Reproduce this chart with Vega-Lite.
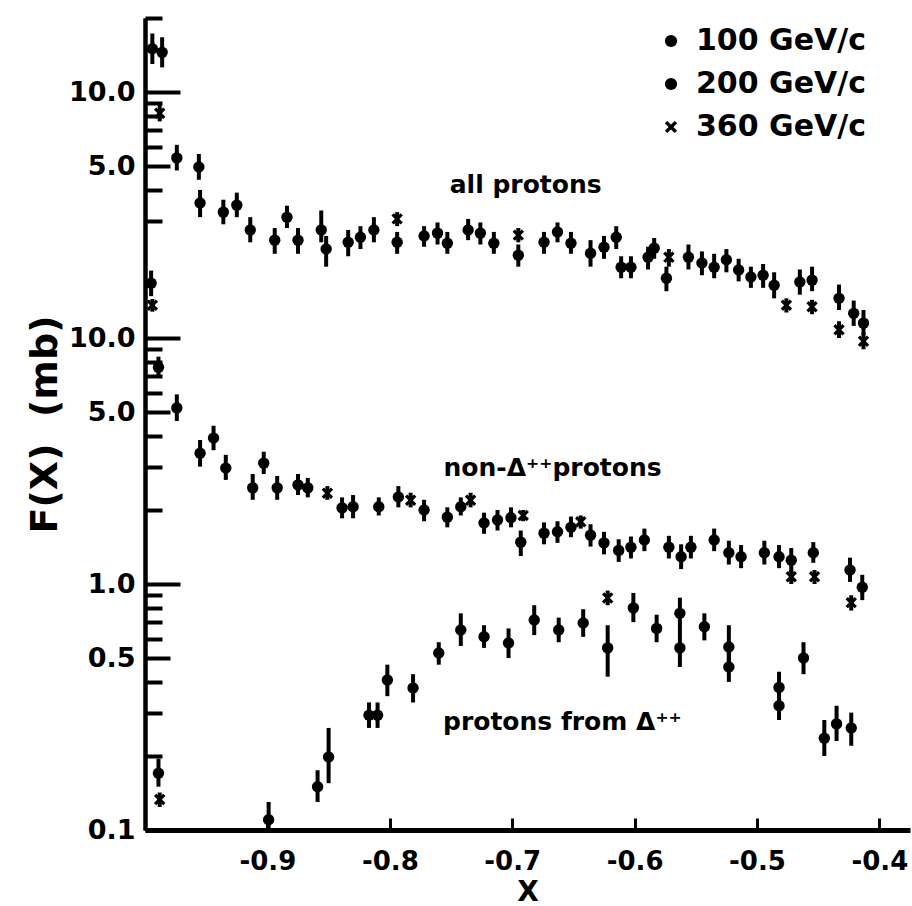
{
  "$schema": "https://vega.github.io/schema/vega-lite/v6.json",
  "width": 765,
  "height": 812,
  "autosize": {"type": "none"},
  "padding": {"left": 145, "top": 18, "right": 2, "bottom": 76},
  "background": "white",
  "config": {
    "view": {"stroke": null},
    "font": "DejaVu Sans",
    "axis": {
      "tickColor": "black", "domainColor": "black", "labelColor": "black", "titleColor": "black",
      "labelFont": "DejaVu Sans", "labelFontWeight": "bold", "labelFontSize": 27,
      "titleFont": "DejaVu Sans", "titleFontWeight": "bold",
      "labelFlush": false, "labelOverlap": false, "grid": false, "tickWidth": 4, "domainWidth": 4
    }
  },
  "datasets": {
    "all": [
      {"x": -0.994, "F": 15.0, "E": "100 GeV/c", "lo": 13.0, "hi": 17.3},
      {"x": -0.986, "F": 14.5, "E": "200 GeV/c", "lo": 12.6, "hi": 16.7},
      {"x": -0.988, "F": 8.2, "E": "360 GeV/c", "lo": 7.6, "hi": 8.9},
      {"x": -0.974, "F": 5.4, "E": "100 GeV/c", "lo": 4.8, "hi": 6.1},
      {"x": -0.956, "F": 4.96, "E": "200 GeV/c", "lo": 4.4, "hi": 5.6},
      {"x": -0.955, "F": 3.54, "E": "100 GeV/c", "lo": 3.1, "hi": 4.0},
      {"x": -0.936, "F": 3.25, "E": "100 GeV/c", "lo": 2.9, "hi": 3.65},
      {"x": -0.925, "F": 3.47, "E": "200 GeV/c", "lo": 3.1, "hi": 3.9},
      {"x": -0.914, "F": 2.75, "E": "100 GeV/c", "lo": 2.45, "hi": 3.1},
      {"x": -0.894, "F": 2.5, "E": "100 GeV/c", "lo": 2.2, "hi": 2.8},
      {"x": -0.884, "F": 3.1, "E": "200 GeV/c", "lo": 2.8, "hi": 3.45},
      {"x": -0.875, "F": 2.5, "E": "100 GeV/c", "lo": 2.2, "hi": 2.8},
      {"x": -0.856, "F": 2.75, "E": "200 GeV/c", "lo": 2.45, "hi": 3.3},
      {"x": -0.852, "F": 2.3, "E": "100 GeV/c", "lo": 1.95, "hi": 2.6},
      {"x": -0.834, "F": 2.45, "E": "100 GeV/c", "lo": 2.15, "hi": 2.75},
      {"x": -0.824, "F": 2.57, "E": "200 GeV/c", "lo": 2.3, "hi": 2.85},
      {"x": -0.813, "F": 2.75, "E": "100 GeV/c", "lo": 2.45, "hi": 3.1},
      {"x": -0.794, "F": 3.05, "E": "360 GeV/c", "lo": 2.85, "hi": 3.25},
      {"x": -0.794, "F": 2.45, "E": "100 GeV/c", "lo": 2.2, "hi": 2.7},
      {"x": -0.772, "F": 2.6, "E": "200 GeV/c", "lo": 2.35, "hi": 2.85},
      {"x": -0.761, "F": 2.67, "E": "100 GeV/c", "lo": 2.4, "hi": 2.95},
      {"x": -0.753, "F": 2.43, "E": "200 GeV/c", "lo": 2.2, "hi": 2.7},
      {"x": -0.736, "F": 2.75, "E": "100 GeV/c", "lo": 2.5, "hi": 3.05},
      {"x": -0.726, "F": 2.67, "E": "200 GeV/c", "lo": 2.4, "hi": 2.95},
      {"x": -0.715, "F": 2.43, "E": "100 GeV/c", "lo": 2.2, "hi": 2.7},
      {"x": -0.695, "F": 2.62, "E": "360 GeV/c", "lo": 2.45, "hi": 2.8},
      {"x": -0.695, "F": 2.17, "E": "100 GeV/c", "lo": 1.95, "hi": 2.4},
      {"x": -0.674, "F": 2.45, "E": "100 GeV/c", "lo": 2.2, "hi": 2.7},
      {"x": -0.663, "F": 2.7, "E": "200 GeV/c", "lo": 2.45, "hi": 2.95},
      {"x": -0.652, "F": 2.43, "E": "100 GeV/c", "lo": 2.2, "hi": 2.7},
      {"x": -0.636, "F": 2.21, "E": "100 GeV/c", "lo": 1.95, "hi": 2.5},
      {"x": -0.625, "F": 2.34, "E": "200 GeV/c", "lo": 2.1, "hi": 2.6},
      {"x": -0.615, "F": 2.57, "E": "100 GeV/c", "lo": 2.3, "hi": 2.85},
      {"x": -0.611, "F": 1.94, "E": "200 GeV/c", "lo": 1.75, "hi": 2.15},
      {"x": -0.603, "F": 1.94, "E": "100 GeV/c", "lo": 1.75, "hi": 2.15},
      {"x": -0.589, "F": 2.13, "E": "200 GeV/c", "lo": 1.9, "hi": 2.35},
      {"x": -0.584, "F": 2.32, "E": "100 GeV/c", "lo": 2.1, "hi": 2.55},
      {"x": -0.572, "F": 2.13, "E": "360 GeV/c", "lo": 1.95, "hi": 2.3},
      {"x": -0.574, "F": 1.75, "E": "100 GeV/c", "lo": 1.55, "hi": 1.95},
      {"x": -0.556, "F": 2.13, "E": "200 GeV/c", "lo": 1.9, "hi": 2.4},
      {"x": -0.545, "F": 2.02, "E": "100 GeV/c", "lo": 1.8, "hi": 2.25},
      {"x": -0.535, "F": 1.94, "E": "200 GeV/c", "lo": 1.75, "hi": 2.2},
      {"x": -0.525, "F": 2.08, "E": "100 GeV/c", "lo": 1.85, "hi": 2.3},
      {"x": -0.515, "F": 1.89, "E": "200 GeV/c", "lo": 1.7, "hi": 2.1},
      {"x": -0.505, "F": 1.77, "E": "100 GeV/c", "lo": 1.6, "hi": 1.95},
      {"x": -0.495, "F": 1.8, "E": "200 GeV/c", "lo": 1.6, "hi": 2.0},
      {"x": -0.486, "F": 1.64, "E": "100 GeV/c", "lo": 1.45, "hi": 1.85},
      {"x": -0.476, "F": 1.36, "E": "360 GeV/c", "lo": 1.27, "hi": 1.45},
      {"x": -0.465, "F": 1.69, "E": "100 GeV/c", "lo": 1.5, "hi": 1.9},
      {"x": -0.455, "F": 1.72, "E": "200 GeV/c", "lo": 1.55, "hi": 1.95},
      {"x": -0.455, "F": 1.34, "E": "360 GeV/c", "lo": 1.25, "hi": 1.43},
      {"x": -0.433, "F": 1.45, "E": "100 GeV/c", "lo": 1.3, "hi": 1.65},
      {"x": -0.433, "F": 1.08, "E": "360 GeV/c", "lo": 1.0, "hi": 1.17},
      {"x": -0.421, "F": 1.26, "E": "200 GeV/c", "lo": 1.12, "hi": 1.42},
      {"x": -0.413, "F": 1.15, "E": "100 GeV/c", "lo": 1.03, "hi": 1.3},
      {"x": -0.413, "F": 0.97, "E": "360 GeV/c", "lo": 0.9, "hi": 1.05}
    ],
    "lower": [
      {"s": "non", "x": -0.995, "F": 16.7, "E": "100 GeV/c", "lo": 14.8, "hi": 18.8},
      {"s": "non", "x": -0.994, "F": 13.6, "E": "360 GeV/c", "lo": 12.8, "hi": 14.4},
      {"s": "non", "x": -0.989, "F": 7.6, "E": "200 GeV/c", "lo": 6.9, "hi": 8.4},
      {"s": "non", "x": -0.974, "F": 5.2, "E": "100 GeV/c", "lo": 4.6, "hi": 5.9},
      {"s": "non", "x": -0.955, "F": 3.4, "E": "100 GeV/c", "lo": 3.0, "hi": 3.85},
      {"s": "non", "x": -0.944, "F": 3.92, "E": "200 GeV/c", "lo": 3.5, "hi": 4.4},
      {"s": "non", "x": -0.934, "F": 2.96, "E": "100 GeV/c", "lo": 2.65, "hi": 3.35},
      {"s": "non", "x": -0.912, "F": 2.46, "E": "100 GeV/c", "lo": 2.2, "hi": 2.8},
      {"s": "non", "x": -0.903, "F": 3.1, "E": "200 GeV/c", "lo": 2.8, "hi": 3.45},
      {"s": "non", "x": -0.892, "F": 2.46, "E": "100 GeV/c", "lo": 2.2, "hi": 2.75},
      {"s": "non", "x": -0.875, "F": 2.53, "E": "200 GeV/c", "lo": 2.3, "hi": 2.8},
      {"s": "non", "x": -0.867, "F": 2.46, "E": "100 GeV/c", "lo": 2.25, "hi": 2.7},
      {"s": "non", "x": -0.851, "F": 2.34, "E": "360 GeV/c", "lo": 2.2, "hi": 2.5},
      {"s": "non", "x": -0.839, "F": 2.04, "E": "100 GeV/c", "lo": 1.85, "hi": 2.25},
      {"s": "non", "x": -0.83, "F": 2.06, "E": "200 GeV/c", "lo": 1.85, "hi": 2.3},
      {"s": "non", "x": -0.809, "F": 2.06, "E": "100 GeV/c", "lo": 1.9, "hi": 2.25},
      {"s": "non", "x": -0.793, "F": 2.26, "E": "200 GeV/c", "lo": 2.05, "hi": 2.5},
      {"s": "non", "x": -0.783, "F": 2.19, "E": "360 GeV/c", "lo": 2.05, "hi": 2.35},
      {"s": "non", "x": -0.772, "F": 2.0, "E": "100 GeV/c", "lo": 1.8, "hi": 2.2},
      {"s": "non", "x": -0.753, "F": 1.87, "E": "100 GeV/c", "lo": 1.7, "hi": 2.05},
      {"s": "non", "x": -0.742, "F": 2.06, "E": "200 GeV/c", "lo": 1.9, "hi": 2.25},
      {"s": "non", "x": -0.734, "F": 2.19, "E": "360 GeV/c", "lo": 2.05, "hi": 2.35},
      {"s": "non", "x": -0.723, "F": 1.77, "E": "100 GeV/c", "lo": 1.6, "hi": 1.95},
      {"s": "non", "x": -0.712, "F": 1.82, "E": "200 GeV/c", "lo": 1.65, "hi": 2.0},
      {"s": "non", "x": -0.701, "F": 1.86, "E": "100 GeV/c", "lo": 1.7, "hi": 2.05},
      {"s": "non", "x": -0.691, "F": 1.9, "E": "360 GeV/c", "lo": 1.8, "hi": 2.0},
      {"s": "non", "x": -0.693, "F": 1.48, "E": "200 GeV/c", "lo": 1.3, "hi": 1.65},
      {"s": "non", "x": -0.674, "F": 1.61, "E": "100 GeV/c", "lo": 1.45, "hi": 1.78},
      {"s": "non", "x": -0.663, "F": 1.63, "E": "200 GeV/c", "lo": 1.47, "hi": 1.8},
      {"s": "non", "x": -0.652, "F": 1.7, "E": "100 GeV/c", "lo": 1.55, "hi": 1.88},
      {"s": "non", "x": -0.644, "F": 1.79, "E": "360 GeV/c", "lo": 1.68, "hi": 1.9},
      {"s": "non", "x": -0.636, "F": 1.58, "E": "100 GeV/c", "lo": 1.42, "hi": 1.75},
      {"s": "non", "x": -0.625, "F": 1.47, "E": "200 GeV/c", "lo": 1.32, "hi": 1.63},
      {"s": "non", "x": -0.613, "F": 1.37, "E": "100 GeV/c", "lo": 1.23, "hi": 1.52},
      {"s": "non", "x": -0.603, "F": 1.41, "E": "200 GeV/c", "lo": 1.27, "hi": 1.56},
      {"s": "non", "x": -0.592, "F": 1.51, "E": "100 GeV/c", "lo": 1.36, "hi": 1.68},
      {"s": "non", "x": -0.572, "F": 1.41, "E": "100 GeV/c", "lo": 1.27, "hi": 1.57},
      {"s": "non", "x": -0.562, "F": 1.29, "E": "200 GeV/c", "lo": 1.15, "hi": 1.45},
      {"s": "non", "x": -0.554, "F": 1.41, "E": "100 GeV/c", "lo": 1.27, "hi": 1.57},
      {"s": "non", "x": -0.535, "F": 1.51, "E": "100 GeV/c", "lo": 1.36, "hi": 1.68},
      {"s": "non", "x": -0.523, "F": 1.34, "E": "200 GeV/c", "lo": 1.2, "hi": 1.5},
      {"s": "non", "x": -0.513, "F": 1.29, "E": "100 GeV/c", "lo": 1.16, "hi": 1.44},
      {"s": "non", "x": -0.494, "F": 1.34, "E": "100 GeV/c", "lo": 1.2, "hi": 1.5},
      {"s": "non", "x": -0.482, "F": 1.29, "E": "200 GeV/c", "lo": 1.16, "hi": 1.44},
      {"s": "non", "x": -0.472, "F": 1.25, "E": "100 GeV/c", "lo": 1.12, "hi": 1.4},
      {"s": "non", "x": -0.472, "F": 1.07, "E": "360 GeV/c", "lo": 1.0, "hi": 1.14},
      {"s": "non", "x": -0.454, "F": 1.34, "E": "100 GeV/c", "lo": 1.22, "hi": 1.48},
      {"s": "non", "x": -0.453, "F": 1.07, "E": "360 GeV/c", "lo": 1.0, "hi": 1.14},
      {"s": "non", "x": -0.424, "F": 1.14, "E": "100 GeV/c", "lo": 1.02, "hi": 1.28},
      {"s": "non", "x": -0.414, "F": 0.97, "E": "200 GeV/c", "lo": 0.86, "hi": 1.09},
      {"s": "non", "x": -0.423, "F": 0.84, "E": "360 GeV/c", "lo": 0.78, "hi": 0.9},
      {"s": "delta", "x": -0.989, "F": 0.17, "E": "100 GeV/c", "lo": 0.15, "hi": 0.195},
      {"s": "delta", "x": -0.988, "F": 0.133, "E": "360 GeV/c", "lo": 0.124, "hi": 0.142},
      {"s": "delta", "x": -0.899, "F": 0.11, "E": "100 GeV/c", "lo": 0.1, "hi": 0.13},
      {"s": "delta", "x": -0.859, "F": 0.15, "E": "100 GeV/c", "lo": 0.13, "hi": 0.175},
      {"s": "delta", "x": -0.85, "F": 0.198, "E": "200 GeV/c", "lo": 0.155, "hi": 0.26},
      {"s": "delta", "x": -0.817, "F": 0.293, "E": "100 GeV/c", "lo": 0.26, "hi": 0.33},
      {"s": "delta", "x": -0.81, "F": 0.293, "E": "200 GeV/c", "lo": 0.26, "hi": 0.33},
      {"s": "delta", "x": -0.802, "F": 0.407, "E": "100 GeV/c", "lo": 0.35, "hi": 0.47},
      {"s": "delta", "x": -0.781, "F": 0.378, "E": "200 GeV/c", "lo": 0.33, "hi": 0.43},
      {"s": "delta", "x": -0.76, "F": 0.524, "E": "100 GeV/c", "lo": 0.47, "hi": 0.58},
      {"s": "delta", "x": -0.742, "F": 0.65, "E": "100 GeV/c", "lo": 0.56, "hi": 0.76},
      {"s": "delta", "x": -0.723, "F": 0.61, "E": "200 GeV/c", "lo": 0.55, "hi": 0.68},
      {"s": "delta", "x": -0.703, "F": 0.576, "E": "100 GeV/c", "lo": 0.5, "hi": 0.66},
      {"s": "delta", "x": -0.682, "F": 0.714, "E": "200 GeV/c", "lo": 0.62, "hi": 0.82},
      {"s": "delta", "x": -0.662, "F": 0.65, "E": "100 GeV/c", "lo": 0.58, "hi": 0.73},
      {"s": "delta", "x": -0.642, "F": 0.694, "E": "200 GeV/c", "lo": 0.61, "hi": 0.79},
      {"s": "delta", "x": -0.622, "F": 0.877, "E": "360 GeV/c", "lo": 0.82, "hi": 0.94},
      {"s": "delta", "x": -0.622, "F": 0.55, "E": "100 GeV/c", "lo": 0.42, "hi": 0.68},
      {"s": "delta", "x": -0.601, "F": 0.8, "E": "200 GeV/c", "lo": 0.7, "hi": 0.92},
      {"s": "delta", "x": -0.582, "F": 0.66, "E": "100 GeV/c", "lo": 0.58, "hi": 0.75},
      {"s": "delta", "x": -0.563, "F": 0.76, "E": "200 GeV/c", "lo": 0.65, "hi": 0.88},
      {"s": "delta", "x": -0.563, "F": 0.55, "E": "100 GeV/c", "lo": 0.46, "hi": 0.65},
      {"s": "delta", "x": -0.543, "F": 0.67, "E": "200 GeV/c", "lo": 0.59, "hi": 0.76},
      {"s": "delta", "x": -0.523, "F": 0.555, "E": "100 GeV/c", "lo": 0.48, "hi": 0.68},
      {"s": "delta", "x": -0.523, "F": 0.46, "E": "200 GeV/c", "lo": 0.4, "hi": 0.53},
      {"s": "delta", "x": -0.482, "F": 0.38, "E": "100 GeV/c", "lo": 0.33, "hi": 0.44},
      {"s": "delta", "x": -0.482, "F": 0.32, "E": "200 GeV/c", "lo": 0.28, "hi": 0.36},
      {"s": "delta", "x": -0.462, "F": 0.5, "E": "100 GeV/c", "lo": 0.43, "hi": 0.58},
      {"s": "delta", "x": -0.445, "F": 0.236, "E": "100 GeV/c", "lo": 0.2, "hi": 0.28},
      {"s": "delta", "x": -0.435, "F": 0.27, "E": "200 GeV/c", "lo": 0.23, "hi": 0.32},
      {"s": "delta", "x": -0.423, "F": 0.26, "E": "100 GeV/c", "lo": 0.22, "hi": 0.3}
    ],
    "labels": [
      {"x": -0.689, "y": 41.9, "label": "all protons"},
      {"x": -0.667, "y": 2.96, "label": "non-Δ⁺⁺protons"},
      {"x": -0.659, "y": 0.275, "label": "protons from Δ⁺⁺"}
    ]
  },
  "layer": [
    {
      "data": {"name": "all"},
      "layer": [
        {
          "mark": {"type": "rule", "strokeWidth": 4, "color": "black"},
          "encoding": {
            "x": {"field": "x", "type": "quantitative", "scale": {"domain": [-1.0, -0.375], "nice": false, "zero": false},
              "axis": {"values": [-0.9, -0.8, -0.7, -0.6, -0.5, -0.4], "labelExpr": "'-' + format(abs(datum.value), '.1f')", "tickSize": -12, "tickWidth": 3, "domainWidth": 5, "labelPadding": 30, "labelFontSize": 26, "title": "X", "titleFontSize": 28, "titlePadding": 4}},
            "y": {"field": "lo", "type": "quantitative", "scale": {"type": "log", "domain": [0.01, 20], "nice": false},
              "axis": {"orient": "left", "title": null, "values": [3, 4, 5, 6, 7, 8, 9, 10, 20],
                "labelExpr": "datum.value == 5 ? '5.0' : datum.value == 10 ? '10.0' : ''",
                "tickSize": {"condition": [{"test": "datum.value == 10", "value": -35}, {"test": "datum.value == 5", "value": -25}], "value": -17},
                "labelPadding": {"condition": [{"test": "datum.value == 10", "value": 45}, {"test": "datum.value == 5", "value": 35}], "value": 27}}},
            "y2": {"field": "hi"}
          }
        },
        {
          "mark": {"type": "point", "filled": true, "opacity": 1, "color": "black", "size": 130},
          "encoding": {
            "x": {"field": "x", "type": "quantitative"},
            "y": {"field": "F", "type": "quantitative"},
            "shape": {"field": "E", "type": "nominal",
              "scale": {"domain": ["100 GeV/c", "200 GeV/c", "360 GeV/c"], "range": ["circle", "circle", "M-1,-0.6L-0.6,-1L0,-0.4L0.6,-1L1,-0.6L0.4,0L1,0.6L0.6,1L0,0.4L-0.6,1L-1,0.6L-0.4,0Z"]},
              "legend": {"orient": "none", "legendX": 511, "legendY": 8, "title": null, "padding": 0, "labelFont": "DejaVu Sans", "labelFontWeight": "bold", "labelFontSize": 30, "labelColor": "black", "labelLimit": 500, "symbolSize": 150, "symbolFillColor": "black", "symbolStrokeColor": "black", "symbolStrokeWidth": 0, "symbolOpacity": 1, "rowPadding": 13, "labelOffset": 10}}
          }
        }
      ]
    },
    {
      "layer": [
        {
          "data": {"name": "lower"},
          "mark": {"type": "rule", "strokeWidth": 4, "color": "black"},
          "encoding": {
            "x": {"field": "x", "type": "quantitative", "scale": {"domain": [-1.0, -0.375], "nice": false, "zero": false},
              "axis": {"values": [-0.9, -0.8, -0.7, -0.6, -0.5, -0.4], "labelExpr": "'-' + format(abs(datum.value), '.1f')", "tickSize": -12, "tickWidth": 3, "domainWidth": 5, "labelPadding": 30, "labelFontSize": 26, "title": "X", "titleFontSize": 28, "titlePadding": 4}},
            "y": {"field": "lo", "type": "quantitative", "scale": {"type": "log", "domain": [0.1, 200], "nice": false},
              "axis": {"orient": "left", "title": "F(X)\u00a0\u00a0(mb)", "titleFontSize": 38, "titlePadding": 4,
                "values": [0.1, 0.2, 0.3, 0.4, 0.5, 0.6, 0.7, 0.8, 0.9, 1, 2, 3, 4, 5, 6, 7, 8, 9, 10],
                "labelExpr": "datum.value == 0.1 ? '0.1' : datum.value == 0.5 ? '0.5' : datum.value == 1 ? '1.0' : datum.value == 5 ? '5.0' : datum.value == 10 ? '10.0' : ''",
                "tickSize": {"condition": [{"test": "datum.value == 10 || datum.value == 1 || datum.value == 0.1", "value": -35}, {"test": "datum.value == 5 || datum.value == 0.5", "value": -25}], "value": -17},
                "labelPadding": {"condition": [{"test": "datum.value == 10 || datum.value == 1 || datum.value == 0.1", "value": 45}, {"test": "datum.value == 5 || datum.value == 0.5", "value": 35}], "value": 27}}},
            "y2": {"field": "hi"}
          }
        },
        {
          "data": {"name": "lower"},
          "mark": {"type": "point", "filled": true, "opacity": 1, "color": "black", "size": 130},
          "encoding": {
            "x": {"field": "x", "type": "quantitative"},
            "y": {"field": "F", "type": "quantitative"},
            "shape": {"field": "E", "type": "nominal"}
          }
        },
        {
          "data": {"name": "labels"},
          "mark": {"type": "text", "font": "DejaVu Sans", "fontWeight": "bold", "fontSize": 25, "color": "black"},
          "encoding": {
            "x": {"field": "x", "type": "quantitative"},
            "y": {"field": "y", "type": "quantitative"},
            "text": {"field": "label"}
          }
        }
      ]
    }
  ],
  "resolve": {"scale": {"y": "independent"}, "axis": {"y": "independent"}}
}
